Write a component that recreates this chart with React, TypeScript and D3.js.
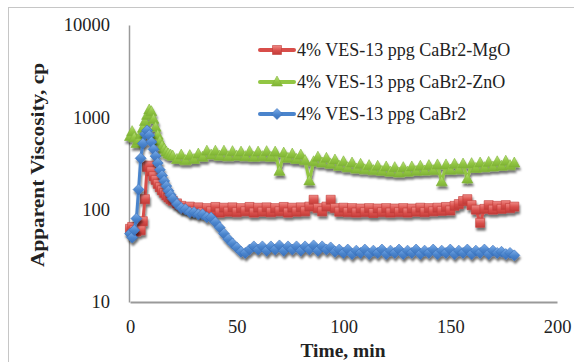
import { useEffect, useRef } from 'react';
import * as d3 from 'd3';

// sampling times, min
const time = [
  0, 1, 2, 3, 4, 5, 6, 7, 8, 9, 10, 11, 12, 13, 14, 15, 16, 17, 18, 19, 20,
  22, 24, 26, 28, 30, 32, 34, 36, 38, 40,
  42, 44, 46, 48, 50, 52, 54, 56, 58, 60,
  62, 64, 66, 68, 70, 72, 74, 76, 78, 80,
  82, 84, 86, 88, 90, 92, 94, 96, 98, 100,
  102, 104, 106, 108, 110, 112, 114, 116, 118, 120,
  122, 124, 126, 128, 130, 132, 134, 136, 138, 140,
  142, 144, 146, 148, 150, 152, 154, 156, 158, 160,
  162, 164, 166, 168, 170, 172, 174, 176, 178, 180,
];

const mgo = [
  62, 65, 60, 58, 62, 60, 75, 130, 290, 300, 260, 230, 210, 190, 175, 162, 152, 143, 136, 130, 125,
  117, 110, 104, 108, 96, 106, 94, 104, 96, 107,
  93, 105, 95, 106, 94, 104, 96, 107, 93, 105,
  95, 106, 94, 104, 96, 107, 93, 105, 95, 106,
  96, 108, 128, 104, 96, 108, 128, 104, 95, 105,
  94, 104, 93, 103, 94, 104, 92, 103, 94, 104,
  93, 103, 94, 104, 93, 103, 95, 105, 94, 104,
  96, 105, 97, 107, 98, 110, 115, 124, 130, 112,
  100, 72, 102, 112, 100, 110, 102, 112, 104, 108,
];

const zno = [
  620, 700, 600, 520, 560, 650, 760, 900, 1050, 1200, 1150, 950, 780, 640, 550, 490, 450, 420, 400, 390, 380,
  350, 390, 340, 385, 350, 400, 370, 430, 390, 430,
  380, 430, 375, 425, 380, 420, 375, 425, 370, 420,
  375, 425, 370, 420, 260, 410, 360, 400, 350, 390,
  340, 205, 330, 370, 320, 360, 310, 345, 295, 330,
  285, 320, 275, 310, 270, 300, 265, 295, 260, 290,
  255, 285, 250, 285, 255, 290, 260, 295, 262, 300,
  265, 305, 200, 305, 268, 310, 270, 312, 215, 315,
  280, 320, 285, 325, 290, 330, 295, 335, 300, 320,
];

const cabr2 = [
  55, 50, 60, 80, 165, 360, 520, 660, 720, 640, 540, 450, 380, 320, 270, 235, 205, 180, 160, 145, 132,
  115, 104, 101, 94, 94, 89, 89, 83, 82, 73,
  64, 55, 48, 43, 39, 35, 34, 37, 40, 37,
  40, 36, 40, 37, 41, 36, 40, 37, 40, 36,
  40, 37, 41, 36, 40, 37, 39, 35, 37, 34,
  37, 33, 36, 34, 37, 33, 36, 34, 37, 33,
  36, 34, 37, 33, 36, 34, 37, 33, 36, 34,
  37, 33, 36, 34, 37, 33, 36, 34, 37, 33,
  36, 34, 37, 33, 36, 34, 35, 33, 34, 32,
];

const xTicks = [0, 50, 100, 150, 200];
const yTicks = [10, 100, 1000, 10000];

const seriesNames = [
  '4% VES-13 ppg CaBr2-MgO',
  '4% VES-13 ppg CaBr2-ZnO',
  '4% VES-13 ppg CaBr2',
];

const seriesValues = [mgo, zno, cabr2];

const colors = [
  { line: '#D84E4A', light: '#F08A86', dark: '#C23C39', id: 'g-red' },
  { line: '#92C643', light: '#BBE27E', dark: '#7FB335', id: 'g-green' },
  { line: '#4A84CC', light: '#7DAEEA', dark: '#3A70BA', id: 'g-blue' },
];

const markerPaths = [
  'M-4.5,-4.5H4.5V4.5H-4.5Z',
  'M0,-6L5.5,4L-5.5,4Z',
  'M0,-5.5L5.5,0L0,5.5L-5.5,0Z',
];

const FONT = "'Liberation Serif', 'DejaVu Serif', serif";

export default function App() {
  const svgRef = useRef<SVGSVGElement>(null);

  useEffect(() => {
    if (!svgRef.current) return;
    const root = d3.select(svgRef.current);
    root.selectAll('*').remove();

    const x = d3.scaleLinear().domain([0, 200]).range([130, 557]);
    const y = d3.scaleLog().domain([10, 10000]).range([302, 25]);

    const defs = root.append('defs');
    const shadow = defs
      .append('filter')
      .attr('id', 'shadow')
      .attr('x', '-10%')
      .attr('y', '-10%')
      .attr('width', '120%')
      .attr('height', '130%');
    shadow
      .append('feDropShadow')
      .attr('dx', 1)
      .attr('dy', 3)
      .attr('stdDeviation', 1.3)
      .attr('flood-color', '#000')
      .attr('flood-opacity', 0.55);

    colors.forEach((c) => {
      const g = defs
        .append('linearGradient')
        .attr('id', c.id)
        .attr('x1', 0)
        .attr('y1', 0)
        .attr('x2', 0)
        .attr('y2', 1);
      g.append('stop').attr('offset', '0%').attr('stop-color', c.light);
      g.append('stop').attr('offset', '55%').attr('stop-color', c.line);
      g.append('stop').attr('offset', '100%').attr('stop-color', c.dark);
    });

    // outer chart border
    root
      .append('rect')
      .attr('x', 8.5)
      .attr('y', 7.5)
      .attr('width', 620)
      .attr('height', 420)
      .attr('fill', '#fff')
      .attr('stroke', '#C6C6C6');

    // axes
    const yAxis = root
      .append('g')
      .attr('transform', 'translate(129,0)')
      .call(d3.axisLeft(y).tickValues(yTicks).tickSize(0).tickPadding(19).tickFormat((d) => String(d)));
    yAxis.select('.domain').attr('stroke', '#9A9A9A').attr('stroke-width', 1.5);
    yAxis.selectAll('text').attr('font-family', FONT).attr('font-size', 18.5).attr('fill', '#222');

    const xAxis = root
      .append('g')
      .attr('transform', 'translate(0,302)')
      .call(d3.axisBottom(x).tickValues(xTicks).tickSize(0).tickPadding(18).tickFormat((d) => String(d)));
    xAxis.select('.domain').attr('stroke', '#9A9A9A').attr('stroke-width', 2);
    xAxis.selectAll('text').attr('font-family', FONT).attr('font-size', 18.5).attr('fill', '#222');

    // axis titles
    root
      .append('text')
      .attr('transform', 'translate(44,165) rotate(-90)')
      .attr('text-anchor', 'middle')
      .attr('font-family', FONT)
      .attr('font-weight', 'bold')
      .attr('font-size', 19)
      .attr('textLength', 204)
      .attr('lengthAdjust', 'spacingAndGlyphs')
      .attr('fill', '#222')
      .text('Apparent Viscosity, cp');

    root
      .append('text')
      .attr('x', 343)
      .attr('y', 357)
      .attr('text-anchor', 'middle')
      .attr('font-family', FONT)
      .attr('font-weight', 'bold')
      .attr('font-size', 19)
      .attr('textLength', 85)
      .attr('lengthAdjust', 'spacingAndGlyphs')
      .attr('fill', '#222')
      .text('Time, min');

    const line = d3
      .line<number>()
      .x((_, i) => x(time[i]))
      .y((d) => y(d));

    seriesValues.forEach((vals, s) => {
      const c = colors[s];
      const g = root.append('g').attr('filter', 'url(#shadow)');
      g.append('path')
        .attr('d', line(vals) || '')
        .attr('fill', 'none')
        .attr('stroke', c.line)
        .attr('stroke-width', 3);
      g.selectAll('path.mk')
        .data(vals)
        .enter()
        .append('path')
        .attr('class', 'mk')
        .attr('d', markerPaths[s])
        .attr('transform', (d, i) => `translate(${x(time[i])},${y(d)})`)
        .attr('fill', `url(#${c.id})`)
        .attr('stroke', c.dark)
        .attr('stroke-width', 0.6);
    });

    // legend
    const legendY = [50, 82, 114];
    seriesNames.forEach((name, s) => {
      const c = colors[s];
      const g = root.append('g').attr('transform', `translate(0,${legendY[s]})`);
      g.append('line')
        .attr('x1', 260)
        .attr('x2', 294)
        .attr('y1', 0)
        .attr('y2', 0)
        .attr('stroke', c.line)
        .attr('stroke-width', 4)
        .attr('stroke-linecap', 'round');
      g.append('path')
        .attr('d', markerPaths[s])
        .attr('transform', 'translate(277,0)')
        .attr('fill', `url(#${c.id})`)
        .attr('stroke', c.dark)
        .attr('stroke-width', 0.6);
      g.append('text')
        .attr('x', 297)
        .attr('y', 0)
        .attr('dy', '0.35em')
        .attr('font-family', FONT)
        .attr('font-size', 18)
        .attr('fill', '#222')
        .text(name);
    });
  }, []);

  return (
    <svg
      ref={svgRef}
      width={574}
      height={362}
      style={{ position: 'absolute', left: 0, top: 0, background: '#fff' }}
    />
  );
}
